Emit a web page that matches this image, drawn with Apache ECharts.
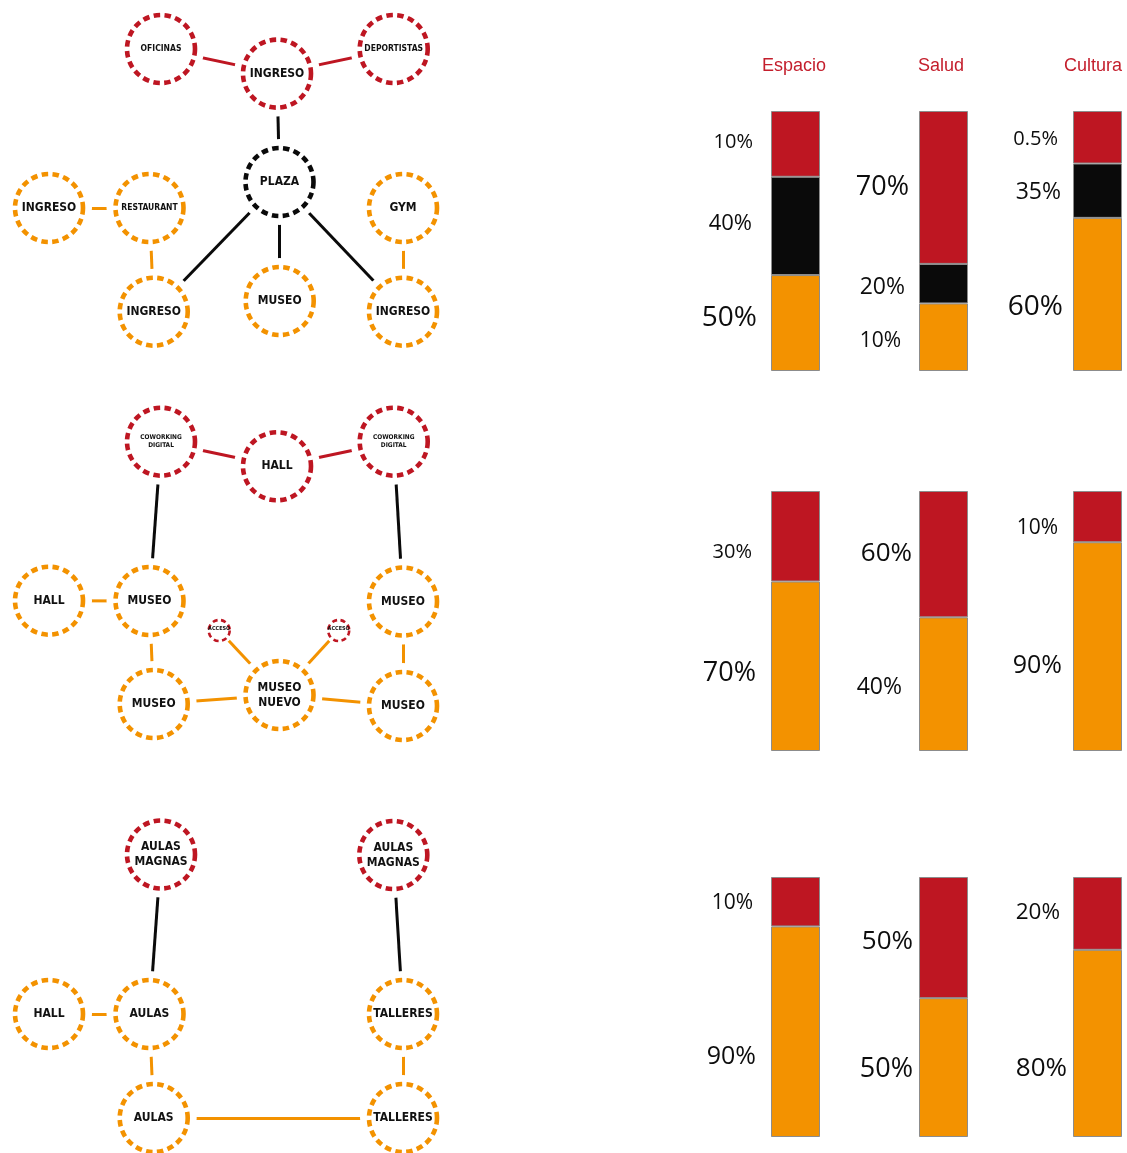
<!DOCTYPE html>
<html>
<head>
<meta charset="utf-8">
<style>
html,body{margin:0;padding:0;background:#fff;}
#c{width:1127px;height:1153px;}
</style>
<script src="https://cdn.jsdelivr.net/npm/echarts@6/dist/echarts.min.js"></script>
</head>
<body>
<div id="c"></div>
<script>
// ---------------- DATA ----------------
const categories = ['Espacio', 'Salud', 'Cultura'];

// share of each bar taken by each colour
const row1Red    = [25.3, 58.8, 20.2];
const row1Black  = [37.8, 15.2, 20.9];
const row1Orange = [36.9, 26.0, 58.9];
const row2Red    = [34.8, 48.6, 19.7];
const row2Orange = [65.2, 51.4, 80.3];
const row3Red    = [19.0, 46.6, 28.0];
const row3Orange = [81.0, 53.4, 72.0];

// printed percentages
const row1RedLabels    = ['10%', '70%', '0.5%'];
const row1BlackLabels  = ['40%', '20%', '35%'];
const row1OrangeLabels = ['50%', '10%', '60%'];
const row2RedLabels    = ['30%', '60%', '10%'];
const row2OrangeLabels = ['70%', '40%', '90%'];
const row3RedLabels    = ['10%', '50%', '20%'];
const row3OrangeLabels = ['90%', '50%', '80%'];

// network diagram nodes
const nodeNames = [
  'OFICINAS', 'INGRESO', 'DEPORTISTAS', 'PLAZA', 'INGRESO', 'RESTAURANT', 'GYM', 'INGRESO', 'MUSEO', 'INGRESO',
  'COWORKING\nDIGITAL', 'HALL', 'COWORKING\nDIGITAL', 'HALL', 'MUSEO', 'MUSEO', 'ACCESO', 'ACCESO', 'MUSEO', 'MUSEO\nNUEVO', 'MUSEO',
  'AULAS\nMAGNAS', 'AULAS\nMAGNAS', 'HALL', 'AULAS', 'TALLERES', 'AULAS', 'TALLERES'
];
const nodeX = [161, 277, 393.7, 279.5, 49, 149.5, 403, 153.7, 279.7, 403,
  161, 277, 393.7, 49, 149.5, 403, 219.2, 338.7, 153.7, 279.5, 403,
  161, 393.3, 49, 149.5, 403, 153.7, 403];
const nodeY = [49, 73.6, 49, 182, 208, 208, 208, 311.7, 301, 311.7,
  441.7, 466.3, 441.7, 600.7, 601, 601.5, 630.5, 630.5, 704, 695, 706,
  854.5, 855, 1014, 1014, 1014, 1118, 1118];
const nodeKind = ['red', 'red', 'red', 'black', 'orange', 'orange', 'orange', 'orange', 'orange', 'orange',
  'red', 'red', 'red', 'orange', 'orange', 'orange', 'red', 'red', 'orange', 'orange', 'orange',
  'red', 'red', 'orange', 'orange', 'orange', 'orange', 'orange'];

const linkSource = [0, 1, 1, 3, 3, 3, 4, 5, 6,
  10, 11, 10, 12, 13, 14, 15, 16, 17, 18, 19,
  21, 22, 23, 24, 25, 26];
const linkTarget = [1, 2, 3, 7, 8, 9, 5, 7, 9,
  11, 12, 14, 15, 14, 18, 20, 19, 19, 19, 20,
  24, 25, 24, 26, 27, 27];
const linkKind = ['red', 'red', 'black', 'black', 'black', 'black', 'orange', 'orange', 'orange',
  'red', 'red', 'black', 'black', 'orange', 'orange', 'orange', 'orange', 'orange', 'orange', 'orange',
  'black', 'black', 'orange', 'orange', 'orange', 'orange'];

// ---------------- LAYOUT / STYLE ----------------
const COLORS = { red: '#be1622', black: '#0a0a0a', orange: '#f39200' };
const barLeft = [771, 919, 1073];
const barW = 49;
const rowTop = [111, 491, 877];
const rowH = 260;
const titleX = [794, 941, 1093];
// [label right edge, label centre y, font size] per row / column / segment (top-down)
const labelLayout = [
  [[[753, 142, 20], [752, 224, 22], [757, 318, 28]],
   [[909, 187, 27], [905, 287, 23], [901, 341, 21]],
   [[1058, 139, 20], [1061, 192, 23], [1063, 307, 28]]],
  [[[752, 552, 20], [756, 673, 27]],
   [[912, 554, 26], [902, 687, 23]],
   [[1058, 528, 21], [1062, 666, 25]]],
  [[[753, 903, 21], [756, 1057, 25]],
   [[913, 942, 26], [913, 1069, 27]],
   [[1060, 913, 22.5], [1067, 1069, 26]]]
];
// label size class of each node
const nodeStyle = ['xs', 'm', 'xs', 'm', 'm', 'xs', 'm', 'm', 'm', 'm',
  'xxs', 'm', 'xxs', 'm', 'm', 'm', 't', 't', 'm', 'm', 'm',
  'm', 'm', 'm', 'm', 'm', 'm', 'm'];
const NODE_FONT = { m: 12, xs: 8.5, xxs: 6.5, t: 5.5 };

const rows = [
  [{ key: 'red', vals: row1Red, labels: row1RedLabels },
   { key: 'black', vals: row1Black, labels: row1BlackLabels },
   { key: 'orange', vals: row1Orange, labels: row1OrangeLabels }],
  [{ key: 'red', vals: row2Red, labels: row2RedLabels },
   { key: 'orange', vals: row2Orange, labels: row2OrangeLabels }],
  [{ key: 'red', vals: row3Red, labels: row3RedLabels },
   { key: 'orange', vals: row3Orange, labels: row3OrangeLabels }]
];

const grids = [], xAxes = [], yAxes = [], series = [];
rows.forEach((segs, r) => {
  categories.forEach((cat, c) => {
    const gi = grids.length;
    grids.push({ left: barLeft[c], top: rowTop[r], width: barW, height: rowH });
    xAxes.push({ type: 'category', gridIndex: gi, data: [cat], show: false });
    yAxes.push({ type: 'value', gridIndex: gi, min: 0, max: 100, show: false });
    // centres of segments, top-down
    let cum = 0;
    const centres = segs.map(s => { const ctr = rowTop[r] + (cum + s.vals[c] / 2) / 100 * rowH; cum += s.vals[c]; return ctr; });
    // stack bottom-up
    for (let k = segs.length - 1; k >= 0; k--) {
      const s = segs[k];
      const lay = labelLayout[r][c][k];
      series.push({
        type: 'bar', xAxisIndex: gi, yAxisIndex: gi, stack: 's' + gi, barWidth: '100%',
        silent: true,
        itemStyle: { color: COLORS[s.key], borderColor: '#8c8c8c', borderWidth: 1 },
        data: [{
          value: s.vals[c],
          label: {
            show: true, position: 'left', distance: 0,
            offset: [lay[0] - barLeft[c], lay[1] - centres[k]],
            formatter: s.labels[c],
            fontFamily: 'Open Sans', fontSize: lay[2], color: '#0d0d0d'
          }
        }]
      });
    }
  });
});

// full-page grid for the diagrams
const pg = grids.length;
grids.push({ left: 0, top: 0, width: 1127, height: 1153 });
xAxes.push({ type: 'value', gridIndex: pg, min: 0, max: 1127, show: false });
yAxes.push({ type: 'value', gridIndex: pg, min: 0, max: 1153, inverse: true, show: false });

// edges + white covers (to leave gaps before the circles)
series.push({
  type: 'graph', coordinateSystem: 'cartesian2d', xAxisIndex: pg, yAxisIndex: pg,
  silent: true, z: 1, symbol: 'circle',
  data: nodeNames.map((n, i) => ({
    id: 'c' + i, name: n, value: [nodeX[i], nodeY[i]],
    symbolSize: nodeStyle[i] === 't' ? 28 : 86,
    itemStyle: { color: '#fff', borderWidth: 0 }
  })),
  links: linkSource.map((s, i) => ({
    source: s, target: linkTarget[i],
    lineStyle: { color: COLORS[linkKind[i]], width: 3, opacity: 1, curveness: 0 }
  })),
  label: { show: false }
});

// dashed circles with labels
series.push({
  type: 'graph', coordinateSystem: 'cartesian2d', xAxisIndex: pg, yAxisIndex: pg,
  silent: true, z: 3, symbol: 'circle',
  data: nodeNames.map((n, i) => {
    const t = nodeStyle[i] === 't';
    const fs = NODE_FONT[nodeStyle[i]];
    return {
      id: 'd' + i, name: n, value: [nodeX[i], nodeY[i]],
      symbolSize: t ? 21 : 68,
      itemStyle: {
        color: 'rgba(255,255,255,0)', borderColor: COLORS[nodeKind[i]],
        borderWidth: t ? 2.6 : 4.6, borderType: t ? [5, 3.5] : [6.5, 4.4]
      },
      label: {
        show: true, position: 'inside', formatter: '{b}',
        fontFamily: 'DejaVu Sans Condensed', fontWeight: 'bold',
        fontSize: fs, lineHeight: fs * 1.25, color: '#111',
        offset: t ? [0, -2] : [0, 0]
      }
    };
  }),
  links: []
});

const option = {
  animation: false,
  backgroundColor: '#fff',
  title: categories.map((c, i) => ({
    text: c, left: titleX[i], top: 57, textAlign: 'center', padding: 0,
    textStyle: { color: '#c41e2c', fontSize: 18, fontWeight: 'normal', fontFamily: 'Liberation Sans' }
  })),
  grid: grids, xAxis: xAxes, yAxis: yAxes, series: series
};
const chart = echarts.init(document.getElementById('c'), null, { renderer: 'canvas' });
chart.setOption(option);
</script>
</body>
</html>
